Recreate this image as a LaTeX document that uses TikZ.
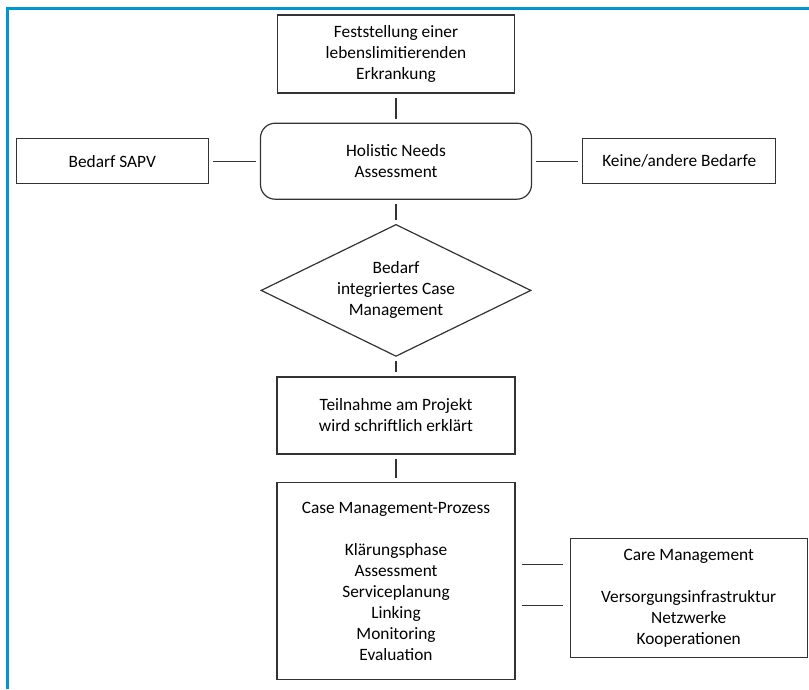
\documentclass[tikz,border=0pt]{standalone}
\usepackage{fontspec}
\setmainfont{Carlito}
\usetikzlibrary{positioning,shapes.geometric}
\definecolor{rahmenblau}{RGB}{0,150,214}

\begin{document}
\begin{tikzpicture}[font=\fontsize{13}{15.75}\selectfont,
  box/.style={draw=black!80,line width=0.9pt,align=center,inner sep=2pt},
  raute/.style={draw=black!80,line width=0.9pt,align=center,shape=diamond,aspect=2.045,inner sep=0pt,
    minimum width=202.5pt,minimum height=99pt},
  link/.style={draw=black!80,line width=0.9pt,shorten >=3pt,shorten <=3pt}]

\useasboundingbox (0,0) rectangle (606.75pt,-516.75pt);
\draw[rahmenblau,line width=2.3pt] (5.5pt,-516.75pt) -- (5.5pt,-6.2pt) -- (606.75pt,-6.2pt);

\node[box,minimum width=177.75pt,minimum height=58.5pt](fest) at (297pt,-40.5pt)
  {Feststellung einer\\lebenslimitierenden\\Erkrankung};
\node[box,rounded corners=11pt,minimum width=203.25pt,minimum height=57pt](hna)[below=21.75pt of fest]
  {Holistic Needs\\Assessment};
\node[box,minimum width=144pt,minimum height=33.75pt](sapv)[left=38.25pt of hna]{Bedarf SAPV};
\node[box,minimum width=144.75pt,minimum height=33.75pt](keine)[right=37.5pt of hna]{Keine/andere Bedarfe};
\node[raute](icm)[below=18pt of hna]{Bedarf\\integriertes Case\\Management};
\node[box,minimum width=178.5pt,minimum height=57.75pt](teil)[below=14.5pt of icm]
  {Teilnahme am Projekt\\wird schriftlich erklärt};
\node[box,minimum width=178.5pt,minimum height=147.75pt](case)[below=20.5pt of teil]
  {Case Management-Prozess\\[15.75pt]Klärungsphase\\Assessment\\Serviceplanung\\Linking\\Monitoring\\Evaluation};
\node[box,minimum width=177.75pt,minimum height=89.25pt](care)[right=40.5pt of case,yshift=-12.75pt]
  {Care Management\\[15.75pt]Versorgungsinfrastruktur\\Netzwerke\\Kooperationen};

\coordinate(c1) at ([yshift=25.1pt]care.west);
\coordinate(c2) at ([yshift=-5.6pt]care.west);

\path[link](fest)edge(hna)
     (hna)edge(sapv)
     (hna)edge(keine)
     (hna)edge(icm)
     (icm)edge(teil)
     (teil)edge(case)
     (case.east|-c1)edge[shorten >=5pt,shorten <=4.5pt](c1)
     (case.east|-c2)edge[shorten >=5pt,shorten <=4.5pt](c2)
     ;

\end{tikzpicture}
\end{document}
